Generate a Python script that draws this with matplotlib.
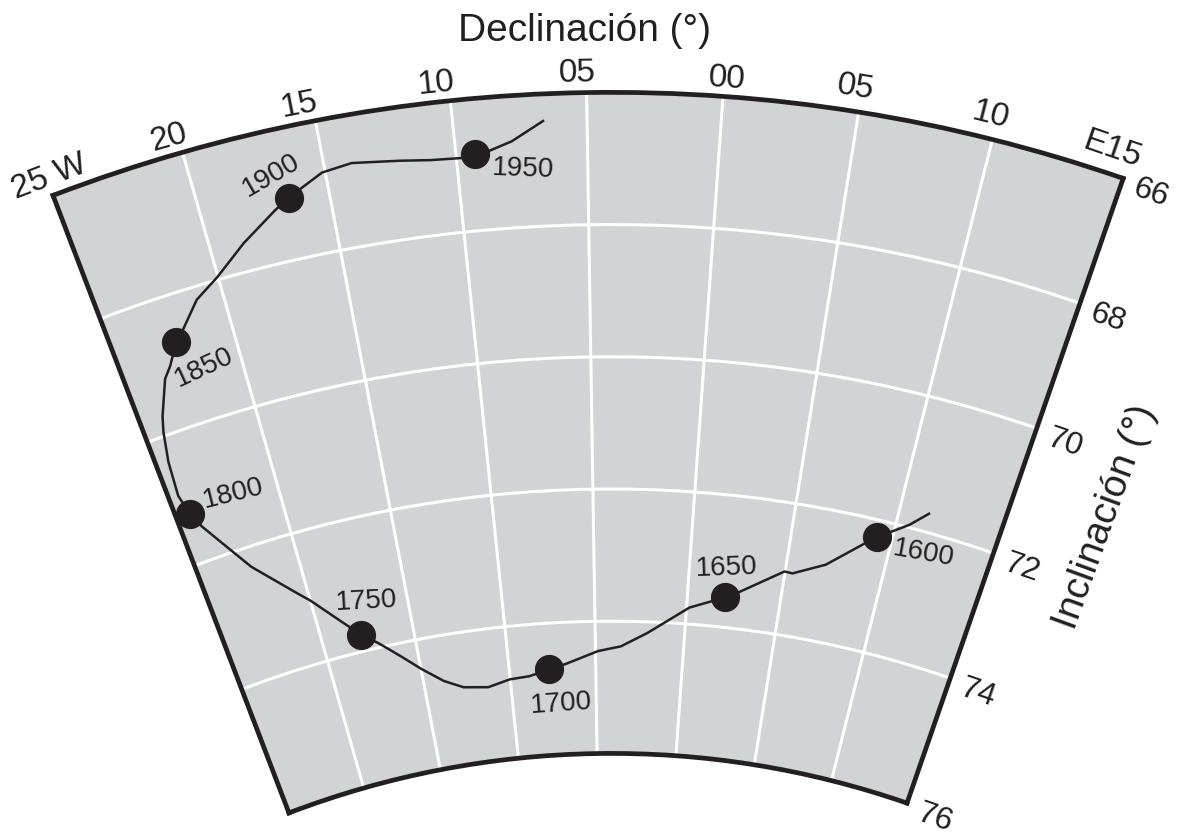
import numpy as np
import matplotlib
matplotlib.use("Agg")
import matplotlib.pyplot as plt

# ---------------- data ----------------
# secular variation path (declination E+, inclination)
declination = [11.43, 10.65, 9.24, 8.66, 7.01, 5.39, 4.97, 2.71, 2.01, 0.16, -2.09,
               -3.56, -4.85, -6.72, -7.70, -8.87, -10.02, -11.33, -12.75, -13.82,
               -14.97, -15.93, -17.00, -17.83, -18.65, -20.00, -20.58, -22.37,
               -23.37, -24.00, -24.33, -24.55, -24.43, -24.18, -23.98, -23.34,
               -22.96, -22.41, -21.98, -21.08, -20.03, -18.67, -17.18, -16.55,
               -15.96, -15.12, -13.95, -12.11, -10.99, -9.80, -9.26, -8.73,
               -7.85, -6.64]
inclination = [71.72, 71.96, 72.26, 72.41, 72.83, 73.05, 73.04, 73.45, 73.55, 73.75,
               74.17, 74.38, 74.45, 74.63, 74.70, 74.78, 74.80, 74.88, 74.83, 74.69,
               74.45, 74.21, 73.94, 73.75, 73.50, 73.05, 72.88, 72.30, 71.81, 71.48,
               71.24, 70.92, 70.39, 69.94, 69.71, 69.19, 69.03, 68.72, 68.57, 68.20,
               67.96, 67.57, 67.20, 67.06, 66.95, 66.79, 66.73, 66.81, 66.86, 66.88,
               66.84, 66.81, 66.69, 66.41]

years = [1600, 1650, 1700, 1750, 1800, 1850, 1900, 1950]
year_decl = [9.24, 2.01, -7.70, -17.83, -24.33, -22.41, -16.55, -9.26]
year_incl = [72.26, 73.55, 74.70, 73.75, 71.24, 68.72, 67.06, 66.84]

decl_ticks = [-25, -20, -15, -10, -5, 0, 5, 10, 15]
decl_labels = ["25 W", "20", "15", "10", "05", "00", "05", "10", "E15"]
incl_ticks = [66, 68, 70, 72, 74, 76]
incl_labels = ["66", "68", "70", "72", "74", "76"]

# ---------------- style / layout ----------------
W, H, DPI = 1187, 838, 100
INK = "#231f20"
BG = "#d1d3d4"
FONT = ["Liberation Sans", "DejaVu Sans"]
plt.rcParams["font.family"] = FONT

def px2pt(dx, dy):
    # pixel offset (x right, y down) -> offset points
    return (dx * 72.0 / DPI, -dy * 72.0 / DPI)

theta_offset_deg = 4.09
r_origin = 89.67

fig = plt.figure(figsize=(W / DPI, H / DPI), dpi=DPI)
fig.patch.set_facecolor("white")

# square box that contains the wedge (pixels)
left_px, top_px, side_px = 53.0, -83.8, 1070.2
ax = fig.add_axes([left_px / W, 1 - (top_px + side_px) / H, side_px / W, side_px / H],
                  projection="polar")
ax.set_theta_zero_location("N", offset=-theta_offset_deg)
ax.set_theta_direction(-1)
ax.set_thetamin(min(decl_ticks))
ax.set_thetamax(max(decl_ticks))
ax.set_ylim(max(incl_ticks), min(incl_ticks))
ax.set_rorigin(r_origin)
ax.set_facecolor(BG)

ax.set_xticks(np.deg2rad(decl_ticks))
ax.set_xticklabels([])
ax.set_yticks(incl_ticks)
ax.set_yticklabels([])
ax.tick_params(length=0)
ax.set_axisbelow(True)
ax.grid(True, color="white", linewidth=2.2)
for sp in ax.spines.values():
    sp.set_color(INK)
    sp.set_linewidth(3.4)

# path and epochs
ax.plot(np.deg2rad(declination), inclination, color=INK, lw=1.8, zorder=3)
ax.plot(np.deg2rad(year_decl), year_incl, "o", color=INK, ms=20, zorder=4)

year_off_px = [(47, 16), (2, -30), (12, 34), (5, -33), (43, -20), (28, 25), (-18, -22), (48, 15)]
year_rot = [-10, 2, 4, 3, 14, 25, 30, -2]
for y, d, i, off, rot in zip(years, year_decl, year_incl, year_off_px, year_rot):
    ax.annotate(str(y), (np.deg2rad(d), i), xytext=px2pt(*off), textcoords="offset points",
                ha="center", va="center", fontsize=20, rotation=rot, color=INK,
                annotation_clip=False, zorder=5)

# declination labels along the outer arc
dlab_off_px = [(-4, -18), (-14, -15), (-16, -16), (-14, -17), (-9, -19), (4, -18),
               (-3, -24), (-2, -24), (-11, -29)]
for d, lab, off in zip(decl_ticks, decl_labels, dlab_off_px):
    ax.annotate(lab, (np.deg2rad(d), min(incl_ticks)), xytext=px2pt(*off),
                textcoords="offset points", ha="center", va="center", fontsize=24,
                rotation=-(d + theta_offset_deg), color=INK, annotation_clip=False)

# inclination labels along the right edge
for i, lab in zip(incl_ticks, incl_labels):
    ax.annotate(lab, (np.deg2rad(max(decl_ticks)), i), xytext=px2pt(28, 15),
                textcoords="offset points", ha="center", va="center", fontsize=23,
                rotation=-19, color=INK, annotation_clip=False)

fig.text(584.5 / W, 1 - 31 / H, "Declinación (°)", ha="center", va="center",
         fontsize=28, color=INK)
fig.text(1105 / W, 1 - 517 / H, "Inclinación (°)", ha="center", va="center",
         fontsize=28, rotation=70, color=INK)

fig.savefig("out.png", dpi=DPI)
